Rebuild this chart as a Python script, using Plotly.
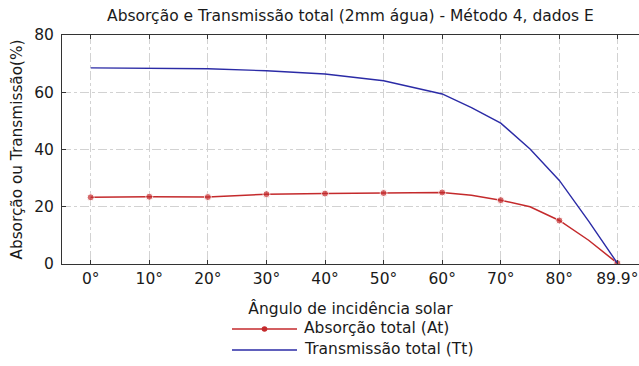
import plotly.graph_objects as go

# Incidence angles (degrees) and the curves computed for them
angles = [0, 10, 20, 30, 40, 50, 60, 65, 70, 75, 80, 85, 89.9]
absorption = [23.3, 23.5, 23.4, 24.4, 24.6, 24.8, 25.0, 24.0, 22.3, 20.0, 15.2, 8.3, 0.3]
transmission = [68.5, 68.4, 68.2, 67.5, 66.4, 64.0, 59.4, 54.6, 49.2, 40.2, 29.2, 15.0, 0.3]
# angles that carry a marker on the absorption curve
marked_angles = [0, 10, 20, 30, 40, 50, 60, 70, 80, 89.9]

tick_vals = [0, 10, 20, 30, 40, 50, 60, 70, 80, 89.9]
tick_text = ["0°", "10°", "20°", "30°", "40°", "50°", "60°", "70°", "80°", "89.9°"]

series_names = ["Absorção total (At)", "Transmissão total (Tt)"]

RED = "#c42a2c"
BLUE = "#2b2ba6"
FONT = "DejaVu Sans, Liberation Sans, Arial, sans-serif"
TXT = 15.5

W, H = 639, 366
M_L, M_R, M_T, M_B = 62, 0, 35, 102
PW, PH = W - M_L - M_R, H - M_T - M_B

def px_x(px):
    return (px - M_L) / PW

def px_y(py):
    return (H - M_B - py) / PH

marker_sizes = [7 if a in marked_angles else 0 for a in angles]

fig = go.Figure()
fig.add_trace(go.Scatter(
    x=angles, y=absorption, mode="lines+markers", name=series_names[0],
    line=dict(color=RED, width=1.5),
    marker=dict(color=RED, size=marker_sizes),
))
fig.add_trace(go.Scatter(
    x=angles, y=transmission, mode="lines", name=series_names[1],
    line=dict(color=BLUE, width=1.4),
))

# Legend below the axis: long sample lines with labels to their right
legend_rows = [(series_names[0], RED, 329, True), (series_names[1], BLUE, 350, False)]
shapes, annotations = [], []
for name, color, py, with_marker in legend_rows:
    shapes.append(dict(type="line", xref="paper", yref="paper",
                       x0=px_x(232), x1=px_x(297), y0=px_y(py), y1=px_y(py),
                       line=dict(color=color, width=1.4)))
    if with_marker:
        r = 2.8
        shapes.append(dict(type="circle", xref="paper", yref="paper",
                           x0=px_x(264.5 - r), x1=px_x(264.5 + r),
                           y0=px_y(py + r), y1=px_y(py - r),
                           fillcolor=color, line=dict(color=color, width=0)))
    annotations.append(dict(text=name, xref="paper", yref="paper",
                            x=px_x(302), y=px_y(py - 1), xanchor="left", yanchor="middle",
                            showarrow=False, font=dict(size=TXT)))

fig.update_layout(
    width=W, height=H,
    margin=dict(l=M_L, r=M_R, t=M_T, b=M_B),
    paper_bgcolor="white", plot_bgcolor="white",
    font=dict(family=FONT, size=TXT, color="#1a1a1a"),
    title=dict(text="Absorção e Transmissão total (2mm água) - Método 4, dados E",
               x=0.5485, xanchor="center", y=0.958, yanchor="middle",
               font=dict(size=TXT)),
    showlegend=False,
    shapes=shapes,
    annotations=annotations,
)

fig.update_xaxes(
    range=[-4.9, 93.6], tickmode="array", tickvals=tick_vals, ticktext=tick_text,
    showline=True, linecolor="#333333", linewidth=1, mirror="ticks",
    ticks="inside", ticklen=4, tickcolor="#333333",
    showgrid=True, gridcolor="#d2d2d2", griddash="dashdot", gridwidth=1,
    zeroline=False,
    title=dict(text="Ângulo de incidência solar", standoff=16, font=dict(size=TXT)),
    tickfont=dict(size=TXT),
)
fig.update_yaxes(
    range=[0, 80], tickvals=[0, 20, 40, 60, 80],
    showline=True, linecolor="#333333", linewidth=1, mirror=False,
    ticks="inside", ticklen=4, tickcolor="#333333",
    showgrid=True, gridcolor="#d2d2d2", griddash="dashdot", gridwidth=1,
    zeroline=False, ticklabelstandoff=4,
    title=dict(text="Absorção ou Transmissão(%)", standoff=7, font=dict(size=15.3)),
    tickfont=dict(size=TXT),
)

fig.write_html("out.html")
